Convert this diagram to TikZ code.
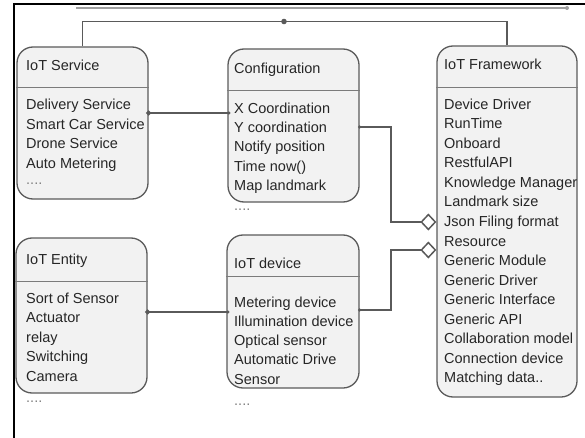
\documentclass[tikz,border=0pt]{standalone}
\usepackage{fontspec}
\setmainfont{Liberation Sans}
\usetikzlibrary{arrows.meta}

\definecolor{boxfill}{HTML}{F2F2F2}
\definecolor{boxline}{HTML}{5A5A5A}
\definecolor{txt}{HTML}{262626}

\begin{document}
\begin{tikzpicture}[x=1pt, y=-1pt,
  box/.style={draw=boxline, fill=boxfill, line width=1.3pt, rounded corners=16pt, inner sep=0pt},
  sep/.style={draw=boxline!80, line width=0.9pt},
  lbl/.style={anchor=base west, inner sep=0pt, text=txt, font=\fontsize{14.5}{17}\selectfont},
  more/.style={lbl, text=gray},
  link/.style={draw=boxline, line width=1.5pt},
  assoc/.style={link, {Circle[length=5pt]}-{Circle[length=3pt]}, shorten <=-2.5pt, shorten >=-3pt},
  agg/.style={link, {Circle[length=3pt]}-{Diamond[open, length=16pt, width=17pt]}, shorten <=-1.5pt}
]

  \useasboundingbox (0,0) rectangle (585,438);

  %% page frame
  \draw[line width=1.8pt] (14,438) -- (14,4) -- (585,4);
  \draw[gray!75, line width=2.2pt] (76,8) -- (567,8);
  \fill[gray!75] (567,8) circle (2pt);

  %% the five classes
  \node[box, minimum width=131pt, minimum height=152pt] (service) at (82.5,123) {};
  \node[box, minimum width=131pt, minimum height=153pt] (config) at (293.5,125.5) {};
  \node[box, minimum width=140pt, minimum height=351pt] (framework) at (507,221.5) {};
  \node[box, minimum width=131pt, minimum height=155pt] (entity) at (81.5,315.5) {};
  \node[box, minimum width=132pt, minimum height=153pt] (device) at (293,311.5) {};

  \draw[sep] (service.west |- 0,87) -- (service.east |- 0,87);
  \draw[sep] (config.west |- 0,90) -- (config.east |- 0,90);
  \draw[sep] (framework.west |- 0,87) -- (framework.east |- 0,87);
  \draw[sep] (entity.west |- 0,281) -- (entity.east |- 0,281);
  \draw[sep] (device.west |- 0,276) -- (device.east |- 0,276);

  \node[lbl] (serviceT) at (26,71) {IoT Service};
  \node[lbl] (configT) at (234,74) {Configuration};
  \node[lbl] (frameworkT) at (444,70) {IoT Framework};
  \node[lbl] (entityT) at (26,264) {IoT Entity};
  \node[lbl] (deviceT) at (234,268) {IoT device};

  \foreach \t [count=\i] in {Delivery Service, Smart Car Service, Drone Service, Auto Metering}
    \node[lbl] (service\i) at (26,{110+19.45*(\i-1)}) {\t};
  \foreach \t [count=\i] in {X Coordination, Y coordination, Notify position, Time now(), Map landmark}
    \node[lbl] (config\i) at (234,{113.5+19.2*(\i-1)}) {\t};
  \foreach \t [count=\i] in {Device Driver, RunTime, Onboard, RestfulAPI, Knowledge Manager,
      Landmark size, Json Filing format, Resource, Generic Module, Generic Driver,
      Generic Interface, Generic API, Collaboration model, Connection device, Matching data..}
    \node[lbl] (framework\i) at (444,{109.5+19.5*(\i-1)}) {\t};
  \foreach \t [count=\i] in {Sort of Sensor, Actuator, relay, Switching, Camera}
    \node[lbl] (entity\i) at (26,{303+19.5*(\i-1)}) {\t};
  \foreach \t [count=\i] in {Metering device, Illumination device, Optical sensor, Automatic Drive, Sensor}
    \node[lbl] (device\i) at (234,{307+19.25*(\i-1)}) {\t};

  \node[more] (serviceM) at (26,185) {....};
  \node[more] (configM) at (234,211) {....};
  \node[more] (entityM) at (26,402) {....};
  \node[more] (deviceM) at (234,405) {....};

  %% connectors
  \coordinate (hub) at (284,21.5);
  \coordinate (bend) at (391,0);
  \draw[link] (service.north) |- (hub) -| (framework.north); % service -- framework
  \fill[boxline] (hub) circle (2.8pt);

  \draw[assoc] (service.east |- 0,113) -- (config.west |- 0,113); % service -> config
  \draw[assoc] (entity.east |- 0,312) -- (device.west |- 0,312);  % entity -> device

  \draw[agg] (config.east |- 0,127) -| (bend |- 0,222) -- (framework.west |- 0,222); % config <>- framework
  \draw[agg] (device.east |- 0,310) -| (bend |- 0,250) -- (framework.west |- 0,250); % device <>- framework
\end{tikzpicture}
\end{document}
